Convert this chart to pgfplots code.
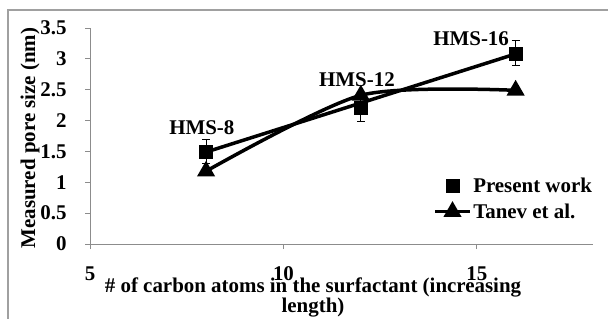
\documentclass[border=0pt]{standalone}
\usepackage{pgfplots}
\pgfplotsset{compat=1.18}
\usepackage{fontspec}
\setmainfont{Liberation Serif}
\definecolor{axgray}{HTML}{8C8C8C}
\definecolor{framegray}{HTML}{A0A0A0}
\newcommand{\bigfont}{\fontsize{21}{23}\selectfont\bfseries}
\begin{document}
\begin{tikzpicture}[x=1bp,y=1bp]
\useasboundingbox (0,0) rectangle (608,318);
\draw[framegray, line width=1.2bp] (8,-5) -- (8,308) -- (615,308);
\begin{axis}[
  at={(90bp,74bp)}, anchor=south west,
  scale only axis, width=503bp, height=216bp,
  xmin=5, xmax=18, ymin=0, ymax=3.5,
  axis x line*=bottom, axis y line*=left,
  axis line style={draw=axgray, line width=0.9bp},
  xtick={5,10,15}, ytick={0,0.5,1,1.5,2,2.5,3,3.5},
  yticklabels={0,0.5,1,1.5,2,2.5,3,3.5},
  tick align=outside, major tick length=5bp,
  tick style={draw=axgray, line width=0.9bp},
  /pgf/number format/assume math mode=true,
  ticklabel style={font=\bigfont},
  xticklabel style={anchor=center, yshift=-25bp},
  yticklabel style={anchor=east, xshift=-15bp},
  clip=false,
  legend style={draw=none, fill=none, at={(rel axis cs:0.682,0.315)}, anchor=north west,
    font=\bigfont, row sep=7bp, inner sep=0bp,
    nodes={inner sep=1.5bp}},
  legend cell align=left,
  legend image code/.code={\draw[mark repeat=2,mark phase=2,#1] plot coordinates {(0bp,0bp) (17.5bp,0bp) (35bp,0bp)};},
]
\addplot[black, line width=3.5bp, forget plot] coordinates {(8,1.49) (16,3.08)};
\addplot[only marks, mark=square*, mark size=6.5bp, black,
  error bars/.cd, y dir=both, y explicit,
  error bar style={line width=1bp, black},
  error mark options={rotate=90, mark size=4bp, line width=1bp, black}]
  coordinates {(8,1.5) +- (0,0.2) (12,2.21) +- (0,0.23) (16,3.09) +- (0,0.2)};
\addlegendentry{Present work}
\addplot[black, line width=3.5bp, smooth, tension=0.45, mark=triangle*, mark size=7bp, mark options={solid}]
  coordinates {(8,1.18) (12,2.41) (16,2.49)};
\addlegendentry{Tanev et al.}
\node[font=\bigfont] at (axis cs:7.89,1.88) {HMS-8};
\node[font=\bigfont] at (axis cs:11.9,2.67) {HMS-12};
\node[font=\bigfont] at (axis cs:14.85,3.32) {HMS-16};
\end{axis}
\node[font=\fontsize{21}{20}\selectfont\bfseries, align=center] at (313,21) {\# of carbon atoms in the surfactant (increasing\\length)};
\node[font=\bigfont, rotate=90] at (30,180) {Measured pore size (nm)};
\end{tikzpicture}
\end{document}
